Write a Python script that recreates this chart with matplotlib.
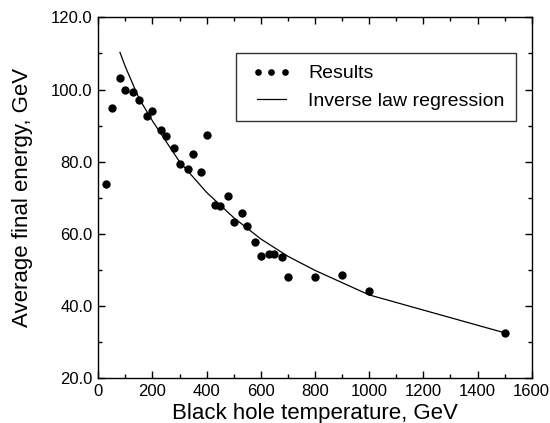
import matplotlib.pyplot as plt
from matplotlib.legend_handler import HandlerLine2D
from matplotlib.ticker import MultipleLocator, FormatStrFormatter

plt.rcParams['font.family'] = ['Liberation Sans', 'DejaVu Sans']

# measured points
temp = [30, 50, 80, 100, 130, 150, 180, 200, 230, 250, 280, 300, 330, 350,
        380, 400, 430, 450, 480, 500, 530, 550, 580, 600, 630, 650, 680, 700,
        800, 900, 1000, 1500]
energy = [73.8, 94.8, 103.3, 99.8, 99.4, 97.1, 92.7, 94.0, 88.8, 87.1, 83.8,
          79.5, 78.1, 82.2, 77.2, 87.3, 68.0, 67.6, 70.6, 63.3, 65.9, 62.3,
          57.7, 54.0, 54.4, 54.5, 53.7, 48.0, 48.2, 48.6, 44.2, 32.6]

# regression curve
fit_t = [80, 100, 150, 200, 300, 400, 500, 600, 700, 800, 900, 1000, 1500]
fit_e = [110.3, 106.3, 97.6, 91.3, 80.0, 71.5, 64.5, 58.6, 53.8, 49.9, 46.5,
         43.1, 32.6]

fig = plt.figure(figsize=(5.5, 4.23), dpi=100)
ax = fig.add_axes([0.1787, 0.1057, 0.788, 0.8533])

pts, = ax.plot(temp, energy, 'o', color='black', markersize=6,
               markeredgewidth=0, label='Results')
fit, = ax.plot(fit_t, fit_e, '-', color='black', linewidth=0.9,
               label='Inverse law regression')

ax.set_xlim(0, 1600)
ax.set_ylim(20, 120)
ax.xaxis.set_major_locator(MultipleLocator(200))
ax.xaxis.set_minor_locator(MultipleLocator(100))
ax.yaxis.set_major_locator(MultipleLocator(20))
ax.yaxis.set_minor_locator(MultipleLocator(10))
ax.yaxis.set_major_formatter(FormatStrFormatter('%.1f'))
ax.tick_params(which='both', direction='in', top=True, right=True,
               labelsize=12, width=1)
ax.tick_params(which='major', length=5, pad=4)
ax.tick_params(which='minor', length=3)
for s in ax.spines.values():
    s.set_linewidth(1)

ax.set_xlabel('Black hole temperature, GeV', fontsize=16, labelpad=3)
ax.set_ylabel('Average final energy, GeV', fontsize=16, labelpad=13)

hmap = {pts: HandlerLine2D(numpoints=3, marker_pad=0.05, xpad=0.48),
        fit: HandlerLine2D(xpad=0.48)}
leg = ax.legend(handler_map=hmap, loc='upper right',
                bbox_to_anchor=(0.9638, 0.901), borderaxespad=0,
                fontsize=14, frameon=True, fancybox=False, edgecolor='black',
                borderpad=0.6, handlelength=1.98, handletextpad=1.13,
                labelspacing=0.5, markerscale=0.8)
leg.get_frame().set_linewidth(1)

fig.savefig('out.png', dpi=100)
